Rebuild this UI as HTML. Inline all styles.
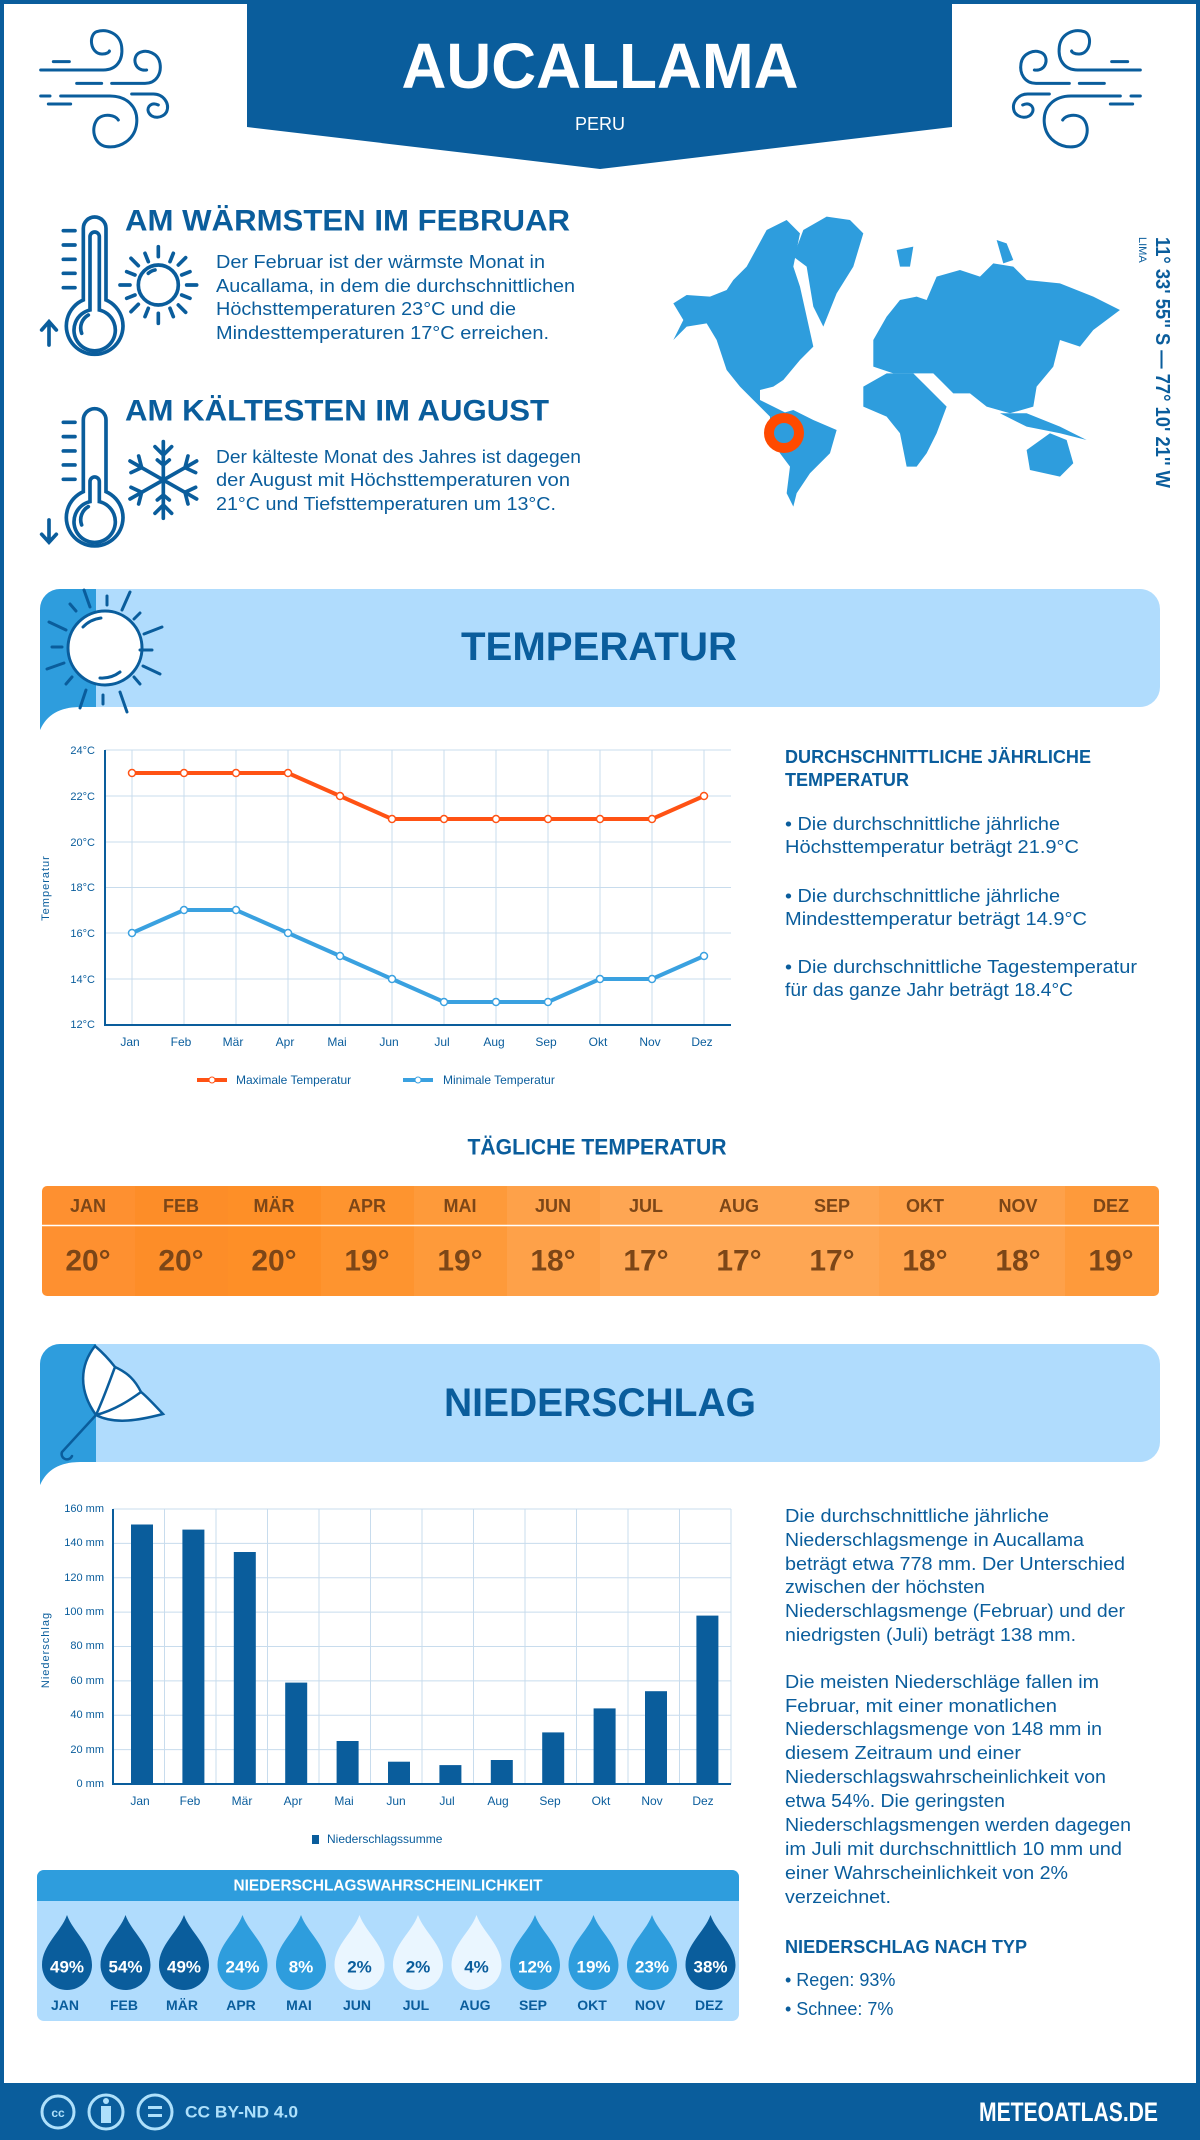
<!DOCTYPE html>
<html><head><meta charset="utf-8"><style>
html,body{margin:0;padding:0;background:#fff}
svg{display:block}
text{font-family:"Liberation Sans",sans-serif}
</style></head><body>
<svg width="1200" height="2140" viewBox="0 0 1200 2140" xmlns="http://www.w3.org/2000/svg">
<rect x="0" y="0" width="1200" height="2140" fill="#fff"/>
<rect x="2" y="2" width="1196" height="2136" fill="none" stroke="#0a5d9c" stroke-width="4"/>
<!-- header banner -->
<polygon points="247,0 952,0 952,127 600,169 247,127" fill="#0a5d9c"/>
<text x="600" y="66" text-anchor="middle" dominant-baseline="central" font-size="64" font-weight="bold" fill="#fff" textLength="397" lengthAdjust="spacingAndGlyphs">AUCALLAMA</text>
<text x="600" y="124" text-anchor="middle" dominant-baseline="central" font-size="18" fill="#fff">PERU</text>
<!-- wind icons -->
<g id="wind" transform="translate(30,20) scale(0.3333)" fill="none" stroke="#0a5d9c" stroke-width="9" stroke-linecap="round">
<path d="M70,125 H118"/>
<path d="M32,150 H220 C260,150 280,120 275,80 C270,40 230,25 200,35 C175,45 180,100 215,102 C230,103 240,95 238,93"/>
<path d="M140,190 H215"/>
<path d="M245,190 H345 C380,190 395,160 390,130 C385,100 350,85 325,100 C305,115 315,155 350,150"/>
<path d="M32,228 H60 M92,228 H240 C290,228 325,260 320,310 C315,360 270,385 230,380 C190,375 180,320 205,295 C225,280 255,285 265,300"/>
<path d="M55,252 H122"/>
<path d="M305,222 H370 C400,222 420,250 410,275 C400,295 365,300 355,275 C350,260 365,245 385,255"/>
</g>
<g transform="translate(1181,0) scale(-1,1)"><use href="#wind"/></g>
<!-- thermometers -->
<g transform="translate(30,200) scale(0.3333)" fill="none" stroke="#0a5d9c" stroke-width="11" stroke-linecap="round">
<path d="M160,300 V85 A34,34 0 0 1 228,85 V300 A85,85 0 1 1 160,300 Z"/>
<path d="M180,330 V110 A14,14 0 0 1 208,110 V330 A62,62 0 1 1 180,330 Z"/>
<path d="M155,400 A45,45 0 0 1 175,345"/>
<path d="M100,92 H135 M100,135 H135 M100,178 H135 M100,220 H135 M100,263 H135"/>
<path d="M57,435 V365 M35,390 L57,365 L79,390"/>
<circle cx="385" cy="255" r="60"/>
<path d="M355,220 A40,40 0 0 1 375,210"/>
<path d="M385,140 V170 M385,340 V370 M270,255 H300 M470,255 H500 M303,175 L325,197 M445,315 L467,337 M303,335 L325,313 M445,195 L467,173 M345,160 L355,185 M420,325 L430,350 M290,215 L315,225 M455,285 L480,295 M290,295 L315,285 M455,225 L480,215 M345,350 L355,325 M420,185 L430,160"/>
<g transform="translate(0,575)">
<path d="M160,300 V85 A34,34 0 0 1 228,85 V300 A85,85 0 1 1 160,300 Z"/>
<path d="M180,330 V270 A14,14 0 0 1 208,270 V330 A62,62 0 1 1 180,330 Z"/>
<path d="M155,400 A45,45 0 0 1 175,345"/>
<path d="M100,92 H135 M100,135 H135 M100,178 H135 M100,220 H135 M100,263 H135"/>
<path d="M57,385 V450 M35,428 L57,452 L79,428"/>
</g>
<g transform="translate(400,840)">
<path d="M0,-115 V115 M-100,-57 L100,57 M-100,57 L100,-57"/>
<path d="M-25,-100 L0,-75 L25,-100 M-25,100 L0,75 L25,100"/>
<path d="M-97,-22 L-65,-37 L-74,-72 M97,22 L65,37 L74,72 M-97,22 L-65,37 L-74,72 M97,-22 L65,-37 L74,-72"/>
<path d="M-18,-60 L0,-45 L18,-60 M-18,60 L0,45 L18,60"/>
</g>
</g>
<text x="125" y="221" dominant-baseline="central" font-size="30" font-weight="bold" fill="#0a5d9c" textLength="445" lengthAdjust="spacingAndGlyphs">AM WÄRMSTEN IM FEBRUAR</text>
<g font-size="18" fill="#0a5d9c">
<text x="216" y="262" dominant-baseline="central" textLength="329" lengthAdjust="spacingAndGlyphs">Der Februar ist der wärmste Monat in</text>
<text x="216" y="286" dominant-baseline="central" textLength="359" lengthAdjust="spacingAndGlyphs">Aucallama, in dem die durchschnittlichen</text>
<text x="216" y="309" dominant-baseline="central" textLength="300" lengthAdjust="spacingAndGlyphs">Höchsttemperaturen 23°C und die</text>
<text x="216" y="333" dominant-baseline="central" textLength="333" lengthAdjust="spacingAndGlyphs">Mindesttemperaturen 17°C erreichen.</text>
</g>
<text x="125" y="411" dominant-baseline="central" font-size="30" font-weight="bold" fill="#0a5d9c" textLength="424" lengthAdjust="spacingAndGlyphs">AM KÄLTESTEN IM AUGUST</text>
<g font-size="18" fill="#0a5d9c">
<text x="216" y="457" dominant-baseline="central" textLength="365" lengthAdjust="spacingAndGlyphs">Der kälteste Monat des Jahres ist dagegen</text>
<text x="216" y="480" dominant-baseline="central" textLength="354" lengthAdjust="spacingAndGlyphs">der August mit Höchsttemperaturen von</text>
<text x="216" y="504" dominant-baseline="central" textLength="340" lengthAdjust="spacingAndGlyphs">21°C und Tiefsttemperaturen um 13°C.</text>
</g>
<!-- map -->
<g transform="translate(660,200) scale(0.3333)" fill="#2e9ddd">
<polygon points="40,310 80,285 150,290 200,270 220,240 260,200 320,90 380,60 420,100 400,200 420,260 460,440 420,480 370,540 340,560 300,570 300,600 340,620 380,640 330,650 280,600 240,560 200,510 170,420 140,370 80,380 40,420 70,360"/>
<polygon points="430,90 500,50 570,60 610,100 580,200 530,280 490,380 460,320 440,200 400,170"/>
<polygon points="330,650 400,630 460,660 530,690 510,760 450,820 410,880 400,920 380,880 390,800 360,760 330,700"/>
<polygon points="640,420 680,350 720,300 770,290 800,300 830,230 900,210 960,230 1000,190 1060,200 1100,240 1200,250 1300,290 1380,330 1300,390 1260,440 1200,420 1180,500 1130,560 1120,620 1050,640 980,620 930,580 880,580 820,520 760,520 700,520 640,500"/>
<polygon points="610,560 680,520 760,520 800,560 860,620 830,700 800,760 770,800 740,800 720,700 680,650 610,620"/>
<polygon points="1100,750 1170,700 1220,720 1240,790 1200,830 1110,810"/>
<polygon points="1020,640 1100,640 1200,680 1280,720 1200,700 1100,680"/>
<polygon points="1010,120 1040,130 1060,180 1030,190"/>
<polygon points="710,150 760,140 750,200 720,200"/>
</g>
<circle cx="784" cy="433" r="15" fill="none" stroke="#ff4a00" stroke-width="10"/>
<text transform="translate(1162,237) rotate(90)" dominant-baseline="central" font-size="20" font-weight="bold" fill="#0a5d9c" textLength="251" lengthAdjust="spacingAndGlyphs">11° 33' 55'' S — 77° 10' 21'' W</text>
<text transform="translate(1142,237) rotate(90)" dominant-baseline="central" font-size="11" fill="#0a5d9c">LIMA</text>
<!-- Temperatur banner -->
<path d="M60,589 H1140 A20,20 0 0 1 1160,609 V687 A20,20 0 0 1 1140,707 H80 Q50,707 40,730 V609 A20,20 0 0 1 60,589 Z" fill="#b0dcfd"/>
<path d="M60,589 H96 V707 H80 Q50,707 40,730 V609 A20,20 0 0 1 60,589 Z" fill="#2e9ddd"/>
<g fill="none" stroke="#0a5d9c" stroke-width="3" stroke-linecap="round">
<circle cx="105" cy="648" r="37" fill="#fff"/>
<path d="M83,627 A30,30 0 0 1 101,618 M100,678 A30,30 0 0 0 120,672"/>
<path d="M84,590 L90,607 M107,596 V605 M130,592 L122,610 M140,613 L134,619 M162,627 L144,634 M152,650 H140 M160,674 L143,666 M140,684 L134,677 M120,692 L127,712 M103,695 V704 M86,690 L80,708 M72,677 L66,684 M64,663 L47,669 M62,647 H52 M66,630 L49,622 M76,611 L70,604"/>
</g>
<text x="599" y="647" text-anchor="middle" dominant-baseline="central" font-size="40" font-weight="bold" fill="#0a5d9c" textLength="276" lengthAdjust="spacingAndGlyphs">TEMPERATUR</text>
<!-- Temp chart -->
<g stroke="#c8dced" stroke-width="1">
<path d="M105,750 H731 M105,796 H731 M105,842 H731 M105,887.5 H731 M105,933 H731 M105,979 H731"/>
<path d="M132,750 V1025 M184,750 V1025 M236,750 V1025 M288,750 V1025 M340,750 V1025 M392,750 V1025 M444,750 V1025 M496,750 V1025 M548,750 V1025 M600,750 V1025 M652,750 V1025 M704,750 V1025"/>
</g>
<path d="M105,750 V1025 H731" fill="none" stroke="#0a5d9c" stroke-width="2"/>
<g font-size="11" fill="#0a5d9c" text-anchor="end">
<text x="95" y="751" dominant-baseline="central">24°C</text>
<text x="95" y="797" dominant-baseline="central">22°C</text>
<text x="95" y="843" dominant-baseline="central">20°C</text>
<text x="95" y="888" dominant-baseline="central">18°C</text>
<text x="95" y="934" dominant-baseline="central">16°C</text>
<text x="95" y="980" dominant-baseline="central">14°C</text>
<text x="95" y="1025" dominant-baseline="central">12°C</text>
</g>
<g font-size="12" fill="#0a5d9c" text-anchor="middle">
<text x="130" y="1042" dominant-baseline="central">Jan</text><text x="181" y="1042" dominant-baseline="central">Feb</text><text x="233" y="1042" dominant-baseline="central">Mär</text><text x="285" y="1042" dominant-baseline="central">Apr</text><text x="337" y="1042" dominant-baseline="central">Mai</text><text x="389" y="1042" dominant-baseline="central">Jun</text><text x="442" y="1042" dominant-baseline="central">Jul</text><text x="494" y="1042" dominant-baseline="central">Aug</text><text x="546" y="1042" dominant-baseline="central">Sep</text><text x="598" y="1042" dominant-baseline="central">Okt</text><text x="650" y="1042" dominant-baseline="central">Nov</text><text x="702" y="1042" dominant-baseline="central">Dez</text>
</g>
<text transform="translate(46,888) rotate(-90)" text-anchor="middle" dominant-baseline="central" font-size="11" fill="#0a5d9c" letter-spacing="1">Temperatur</text>
<polyline points="132,773 184,773 236,773 288,773 340,796 392,819 444,819 496,819 548,819 600,819 652,819 704,796" fill="none" stroke="#ff5214" stroke-width="4"/>
<polyline points="132,933 184,910 236,910 288,933 340,956 392,979 444,1002 496,1002 548,1002 600,979 652,979 704,956" fill="none" stroke="#3aa1e0" stroke-width="4"/>
<g fill="#fff" stroke="#ff5214" stroke-width="1.5">
<circle cx="132" cy="773" r="3.5"/><circle cx="184" cy="773" r="3.5"/><circle cx="236" cy="773" r="3.5"/><circle cx="288" cy="773" r="3.5"/><circle cx="340" cy="796" r="3.5"/><circle cx="392" cy="819" r="3.5"/><circle cx="444" cy="819" r="3.5"/><circle cx="496" cy="819" r="3.5"/><circle cx="548" cy="819" r="3.5"/><circle cx="600" cy="819" r="3.5"/><circle cx="652" cy="819" r="3.5"/><circle cx="704" cy="796" r="3.5"/>
</g>
<g fill="#fff" stroke="#3aa1e0" stroke-width="1.5">
<circle cx="132" cy="933" r="3.5"/><circle cx="184" cy="910" r="3.5"/><circle cx="236" cy="910" r="3.5"/><circle cx="288" cy="933" r="3.5"/><circle cx="340" cy="956" r="3.5"/><circle cx="392" cy="979" r="3.5"/><circle cx="444" cy="1002" r="3.5"/><circle cx="496" cy="1002" r="3.5"/><circle cx="548" cy="1002" r="3.5"/><circle cx="600" cy="979" r="3.5"/><circle cx="652" cy="979" r="3.5"/><circle cx="704" cy="956" r="3.5"/>
</g>
<path d="M197,1080 H227" stroke="#ff5214" stroke-width="4"/><circle cx="212" cy="1080" r="3" fill="#fff" stroke="#ff5214"/>
<text x="236" y="1080" dominant-baseline="central" font-size="12" fill="#0a5d9c">Maximale Temperatur</text>
<path d="M403,1080 H433" stroke="#3aa1e0" stroke-width="4"/><circle cx="418" cy="1080" r="3" fill="#fff" stroke="#3aa1e0"/>
<text x="443" y="1080" dominant-baseline="central" font-size="12" fill="#0a5d9c">Minimale Temperatur</text>
<!-- temp right text -->
<text x="785" y="757" dominant-baseline="central" font-size="18" font-weight="bold" fill="#0a5d9c" textLength="306" lengthAdjust="spacingAndGlyphs">DURCHSCHNITTLICHE JÄHRLICHE</text>
<text x="785" y="780" dominant-baseline="central" font-size="18" font-weight="bold" fill="#0a5d9c" textLength="124" lengthAdjust="spacingAndGlyphs">TEMPERATUR</text>
<g font-size="18" fill="#0a5d9c">
<text x="785" y="824" dominant-baseline="central" textLength="275" lengthAdjust="spacingAndGlyphs">• Die durchschnittliche jährliche</text>
<text x="785" y="847" dominant-baseline="central" textLength="294" lengthAdjust="spacingAndGlyphs">Höchsttemperatur beträgt 21.9°C</text>
<text x="785" y="896" dominant-baseline="central" textLength="275" lengthAdjust="spacingAndGlyphs">• Die durchschnittliche jährliche</text>
<text x="785" y="919" dominant-baseline="central" textLength="302" lengthAdjust="spacingAndGlyphs">Mindesttemperatur beträgt 14.9°C</text>
<text x="785" y="967" dominant-baseline="central" textLength="352" lengthAdjust="spacingAndGlyphs">• Die durchschnittliche Tagestemperatur</text>
<text x="785" y="990" dominant-baseline="central" textLength="288" lengthAdjust="spacingAndGlyphs">für das ganze Jahr beträgt 18.4°C</text>
</g>
<text x="597" y="1147" text-anchor="middle" dominant-baseline="central" font-size="22" font-weight="bold" fill="#0a5d9c" textLength="259" lengthAdjust="spacingAndGlyphs">TÄGLICHE TEMPERATUR</text>
<!-- daily table -->
<defs><clipPath id="tc"><rect x="42" y="1186" width="1117" height="110" rx="5"/></clipPath></defs>
<g clip-path="url(#tc)">
<rect x="42" y="1186" width="94" height="110" fill="#fe9030"/>
<rect x="135" y="1186" width="94" height="110" fill="#fd8d28"/>
<rect x="228" y="1186" width="94" height="110" fill="#fe8f27"/>
<rect x="321" y="1186" width="94" height="110" fill="#fe942f"/>
<rect x="414" y="1186" width="94" height="110" fill="#fe9a3a"/>
<rect x="507" y="1186" width="94" height="110" fill="#fea149"/>
<rect x="600" y="1186" width="94" height="110" fill="#fea653"/>
<rect x="693" y="1186" width="94" height="110" fill="#fea653"/>
<rect x="786" y="1186" width="94" height="110" fill="#fea653"/>
<rect x="879" y="1186" width="94" height="110" fill="#fea14a"/>
<rect x="972" y="1186" width="94" height="110" fill="#fea14a"/>
<rect x="1065" y="1186" width="94" height="110" fill="#fe9a3b"/>
</g>
<path d="M42,1225.5 H1159" stroke="#fff" stroke-width="1.5"/>
<g font-weight="bold" fill="#7c4617" text-anchor="middle">
<g font-size="18">
<text x="88" y="1206" dominant-baseline="central">JAN</text><text x="181" y="1206" dominant-baseline="central">FEB</text><text x="274" y="1206" dominant-baseline="central">MÄR</text><text x="367" y="1206" dominant-baseline="central">APR</text><text x="460" y="1206" dominant-baseline="central">MAI</text><text x="553" y="1206" dominant-baseline="central">JUN</text><text x="646" y="1206" dominant-baseline="central">JUL</text><text x="739" y="1206" dominant-baseline="central">AUG</text><text x="832" y="1206" dominant-baseline="central">SEP</text><text x="925" y="1206" dominant-baseline="central">OKT</text><text x="1018" y="1206" dominant-baseline="central">NOV</text><text x="1111" y="1206" dominant-baseline="central">DEZ</text>
</g>
<g font-size="30">
<text x="88" y="1261" dominant-baseline="central">20°</text><text x="181" y="1261" dominant-baseline="central">20°</text><text x="274" y="1261" dominant-baseline="central">20°</text><text x="367" y="1261" dominant-baseline="central">19°</text><text x="460" y="1261" dominant-baseline="central">19°</text><text x="553" y="1261" dominant-baseline="central">18°</text><text x="646" y="1261" dominant-baseline="central">17°</text><text x="739" y="1261" dominant-baseline="central">17°</text><text x="832" y="1261" dominant-baseline="central">17°</text><text x="925" y="1261" dominant-baseline="central">18°</text><text x="1018" y="1261" dominant-baseline="central">18°</text><text x="1111" y="1261" dominant-baseline="central">19°</text>
</g>
</g>
<!-- Niederschlag banner -->
<path d="M60,1344 H1140 A20,20 0 0 1 1160,1364 V1442 A20,20 0 0 1 1140,1462 H80 Q50,1462 40,1485 V1364 A20,20 0 0 1 60,1344 Z" fill="#b0dcfd"/>
<path d="M60,1344 H96 V1462 H80 Q50,1462 40,1485 V1364 A20,20 0 0 1 60,1344 Z" fill="#2e9ddd"/>
<g fill="none" stroke="#0a5d9c" stroke-width="2.5" stroke-linecap="round">
<path d="M95,1346 C80,1365 78,1390 96,1415 C115,1425 140,1420 163,1414 C150,1400 145,1395 141,1392 C135,1380 128,1373 115,1367 C108,1358 102,1352 95,1346 Z" fill="#fff"/>
<path d="M96,1415 C105,1395 110,1380 115,1367 M96,1415 C115,1410 130,1400 141,1392"/>
<path d="M96,1415 L62,1452 A5,5 0 0 0 72,1456"/>
</g>
<text x="600" y="1403" text-anchor="middle" dominant-baseline="central" font-size="40" font-weight="bold" fill="#0a5d9c" textLength="312" lengthAdjust="spacingAndGlyphs">NIEDERSCHLAG</text>
<!-- precip chart -->
<g stroke="#c8dced" stroke-width="1">
<path d="M113,1509 H731 M113,1543.4 H731 M113,1577.8 H731 M113,1612.1 H731 M113,1646.5 H731 M113,1680.9 H731 M113,1715.3 H731 M113,1749.6 H731"/>
<path d="M164.5,1509 V1784 M216,1509 V1784 M267.5,1509 V1784 M319,1509 V1784 M370.5,1509 V1784 M422,1509 V1784 M473.5,1509 V1784 M525,1509 V1784 M576.5,1509 V1784 M628,1509 V1784 M679.5,1509 V1784 M731,1509 V1784"/>
</g>
<g fill="#0a5d9c">
<rect x="131" y="1524.5" width="22" height="259.5"/>
<rect x="182.4" y="1529.6" width="22" height="254.4"/>
<rect x="233.8" y="1552" width="22" height="232"/>
<rect x="285.2" y="1682.6" width="22" height="101.4"/>
<rect x="336.6" y="1741" width="22" height="43"/>
<rect x="388" y="1761.7" width="22" height="22.3"/>
<rect x="439.4" y="1765.1" width="22" height="18.9"/>
<rect x="490.8" y="1760" width="22" height="24"/>
<rect x="542.2" y="1732.4" width="22" height="51.6"/>
<rect x="593.6" y="1708.4" width="22" height="75.6"/>
<rect x="645" y="1691.2" width="22" height="92.8"/>
<rect x="696.4" y="1615.6" width="22" height="168.4"/>
</g>
<path d="M113,1509 V1784 H731" fill="none" stroke="#0a5d9c" stroke-width="2"/>
<g font-size="11" fill="#0a5d9c" text-anchor="end">
<text x="104" y="1509" dominant-baseline="central">160 mm</text>
<text x="104" y="1543" dominant-baseline="central">140 mm</text>
<text x="104" y="1578" dominant-baseline="central">120 mm</text>
<text x="104" y="1612" dominant-baseline="central">100 mm</text>
<text x="104" y="1646" dominant-baseline="central">80 mm</text>
<text x="104" y="1681" dominant-baseline="central">60 mm</text>
<text x="104" y="1715" dominant-baseline="central">40 mm</text>
<text x="104" y="1750" dominant-baseline="central">20 mm</text>
<text x="104" y="1784" dominant-baseline="central">0 mm</text>
</g>
<g font-size="12" fill="#0a5d9c" text-anchor="middle">
<text x="140" y="1801" dominant-baseline="central">Jan</text><text x="190" y="1801" dominant-baseline="central">Feb</text><text x="242" y="1801" dominant-baseline="central">Mär</text><text x="293" y="1801" dominant-baseline="central">Apr</text><text x="344" y="1801" dominant-baseline="central">Mai</text><text x="396" y="1801" dominant-baseline="central">Jun</text><text x="447" y="1801" dominant-baseline="central">Jul</text><text x="498" y="1801" dominant-baseline="central">Aug</text><text x="550" y="1801" dominant-baseline="central">Sep</text><text x="601" y="1801" dominant-baseline="central">Okt</text><text x="652" y="1801" dominant-baseline="central">Nov</text><text x="703" y="1801" dominant-baseline="central">Dez</text>
</g>
<text transform="translate(46,1650) rotate(-90)" text-anchor="middle" dominant-baseline="central" font-size="11" fill="#0a5d9c" letter-spacing="1">Niederschlag</text>
<rect x="312" y="1835" width="7" height="9" fill="#0a5d9c"/>
<text x="327" y="1839" dominant-baseline="central" font-size="12" fill="#0a5d9c">Niederschlagssumme</text>
<!-- probability box -->
<rect x="37" y="1870" width="702" height="151" rx="7" fill="#b0dcfd"/>
<path d="M44,1870 H732 A7,7 0 0 1 739,1877 V1901 H37 V1877 A7,7 0 0 1 44,1870 Z" fill="#2e9ddd"/>
<text x="388" y="1886" text-anchor="middle" dominant-baseline="central" font-size="16" font-weight="bold" fill="#fff" textLength="309" lengthAdjust="spacingAndGlyphs">NIEDERSCHLAGSWAHRSCHEINLICHKEIT</text>
<g>
<path transform="translate(67,0)" d="M0,1915 C6,1932 25,1945 25,1965 A25,25 0 0 1 -25,1965 C-25,1945 -6,1932 0,1915 Z" fill="#0a5d9c"/>
<path transform="translate(125.5,0)" d="M0,1915 C6,1932 25,1945 25,1965 A25,25 0 0 1 -25,1965 C-25,1945 -6,1932 0,1915 Z" fill="#0a5d9c"/>
<path transform="translate(184,0)" d="M0,1915 C6,1932 25,1945 25,1965 A25,25 0 0 1 -25,1965 C-25,1945 -6,1932 0,1915 Z" fill="#0a5d9c"/>
<path transform="translate(242.5,0)" d="M0,1915 C6,1932 25,1945 25,1965 A25,25 0 0 1 -25,1965 C-25,1945 -6,1932 0,1915 Z" fill="#2e9ddd"/>
<path transform="translate(301,0)" d="M0,1915 C6,1932 25,1945 25,1965 A25,25 0 0 1 -25,1965 C-25,1945 -6,1932 0,1915 Z" fill="#2e9ddd"/>
<path transform="translate(359.5,0)" d="M0,1915 C6,1932 25,1945 25,1965 A25,25 0 0 1 -25,1965 C-25,1945 -6,1932 0,1915 Z" fill="#eaf6ff"/>
<path transform="translate(418,0)" d="M0,1915 C6,1932 25,1945 25,1965 A25,25 0 0 1 -25,1965 C-25,1945 -6,1932 0,1915 Z" fill="#eaf6ff"/>
<path transform="translate(476.5,0)" d="M0,1915 C6,1932 25,1945 25,1965 A25,25 0 0 1 -25,1965 C-25,1945 -6,1932 0,1915 Z" fill="#eaf6ff"/>
<path transform="translate(535,0)" d="M0,1915 C6,1932 25,1945 25,1965 A25,25 0 0 1 -25,1965 C-25,1945 -6,1932 0,1915 Z" fill="#2e9ddd"/>
<path transform="translate(593.5,0)" d="M0,1915 C6,1932 25,1945 25,1965 A25,25 0 0 1 -25,1965 C-25,1945 -6,1932 0,1915 Z" fill="#2e9ddd"/>
<path transform="translate(652,0)" d="M0,1915 C6,1932 25,1945 25,1965 A25,25 0 0 1 -25,1965 C-25,1945 -6,1932 0,1915 Z" fill="#2e9ddd"/>
<path transform="translate(710.5,0)" d="M0,1915 C6,1932 25,1945 25,1965 A25,25 0 0 1 -25,1965 C-25,1945 -6,1932 0,1915 Z" fill="#0a5d9c"/>
</g>
<g font-size="17" font-weight="bold" text-anchor="middle" fill="#fff">
<text x="67" y="1967" dominant-baseline="central">49%</text><text x="125.5" y="1967" dominant-baseline="central">54%</text><text x="184" y="1967" dominant-baseline="central">49%</text><text x="242.5" y="1967" dominant-baseline="central">24%</text><text x="301" y="1967" dominant-baseline="central">8%</text>
<text x="359.5" y="1967" dominant-baseline="central" fill="#0a5d9c">2%</text><text x="418" y="1967" dominant-baseline="central" fill="#0a5d9c">2%</text><text x="476.5" y="1967" dominant-baseline="central" fill="#0a5d9c">4%</text>
<text x="535" y="1967" dominant-baseline="central">12%</text><text x="593.5" y="1967" dominant-baseline="central">19%</text><text x="652" y="1967" dominant-baseline="central">23%</text><text x="710.5" y="1967" dominant-baseline="central">38%</text>
</g>
<g font-size="14" font-weight="bold" text-anchor="middle" fill="#0a5d9c">
<text x="65" y="2005" dominant-baseline="central">JAN</text><text x="124" y="2005" dominant-baseline="central">FEB</text><text x="182" y="2005" dominant-baseline="central">MÄR</text><text x="241" y="2005" dominant-baseline="central">APR</text><text x="299" y="2005" dominant-baseline="central">MAI</text><text x="357" y="2005" dominant-baseline="central">JUN</text><text x="416" y="2005" dominant-baseline="central">JUL</text><text x="475" y="2005" dominant-baseline="central">AUG</text><text x="533" y="2005" dominant-baseline="central">SEP</text><text x="592" y="2005" dominant-baseline="central">OKT</text><text x="650" y="2005" dominant-baseline="central">NOV</text><text x="709" y="2005" dominant-baseline="central">DEZ</text>
</g>
<!-- precip right text -->
<g font-size="18" fill="#0a5d9c">
<text x="785" y="1516" dominant-baseline="central" textLength="264" lengthAdjust="spacingAndGlyphs">Die durchschnittliche jährliche</text>
<text x="785" y="1540" dominant-baseline="central" textLength="299" lengthAdjust="spacingAndGlyphs">Niederschlagsmenge in Aucallama</text>
<text x="785" y="1564" dominant-baseline="central" textLength="340" lengthAdjust="spacingAndGlyphs">beträgt etwa 778 mm. Der Unterschied</text>
<text x="785" y="1587" dominant-baseline="central" textLength="200" lengthAdjust="spacingAndGlyphs">zwischen der höchsten</text>
<text x="785" y="1611" dominant-baseline="central" textLength="340" lengthAdjust="spacingAndGlyphs">Niederschlagsmenge (Februar) und der</text>
<text x="785" y="1635" dominant-baseline="central" textLength="291" lengthAdjust="spacingAndGlyphs">niedrigsten (Juli) beträgt 138 mm.</text>
<text x="785" y="1682" dominant-baseline="central" textLength="314" lengthAdjust="spacingAndGlyphs">Die meisten Niederschläge fallen im</text>
<text x="785" y="1706" dominant-baseline="central" textLength="272" lengthAdjust="spacingAndGlyphs">Februar, mit einer monatlichen</text>
<text x="785" y="1729" dominant-baseline="central" textLength="317" lengthAdjust="spacingAndGlyphs">Niederschlagsmenge von 148 mm in</text>
<text x="785" y="1753" dominant-baseline="central" textLength="236" lengthAdjust="spacingAndGlyphs">diesem Zeitraum und einer</text>
<text x="785" y="1777" dominant-baseline="central" textLength="321" lengthAdjust="spacingAndGlyphs">Niederschlagswahrscheinlichkeit von</text>
<text x="785" y="1801" dominant-baseline="central" textLength="220" lengthAdjust="spacingAndGlyphs">etwa 54%. Die geringsten</text>
<text x="785" y="1825" dominant-baseline="central" textLength="346" lengthAdjust="spacingAndGlyphs">Niederschlagsmengen werden dagegen</text>
<text x="785" y="1849" dominant-baseline="central" textLength="337" lengthAdjust="spacingAndGlyphs">im Juli mit durchschnittlich 10 mm und</text>
<text x="785" y="1873" dominant-baseline="central" textLength="283" lengthAdjust="spacingAndGlyphs">einer Wahrscheinlichkeit von 2%</text>
<text x="785" y="1897" dominant-baseline="central" textLength="106" lengthAdjust="spacingAndGlyphs">verzeichnet.</text>
</g>
<text x="785" y="1947" dominant-baseline="central" font-size="18" font-weight="bold" fill="#0a5d9c" textLength="242" lengthAdjust="spacingAndGlyphs">NIEDERSCHLAG NACH TYP</text>
<text x="785" y="1980" dominant-baseline="central" font-size="18" fill="#0a5d9c">• Regen: 93%</text>
<text x="785" y="2009" dominant-baseline="central" font-size="18" fill="#0a5d9c">• Schnee: 7%</text>
<!-- footer -->
<rect x="0" y="2083" width="1200" height="57" fill="#0a5d9c"/>
<g fill="none" stroke="#aee0fb" stroke-width="3">
<circle cx="58" cy="2112" r="16"/><circle cx="106" cy="2112" r="17"/><circle cx="155" cy="2112" r="17"/>
</g>
<text x="58" y="2113" text-anchor="middle" dominant-baseline="central" font-size="12" font-weight="bold" fill="#aee0fb">cc</text>
<circle cx="106" cy="2101" r="3" fill="#aee0fb"/>
<rect x="101" y="2106" width="10" height="17" fill="#aee0fb"/>
<rect x="148" y="2106" width="14" height="3" fill="#aee0fb"/><rect x="148" y="2114" width="14" height="3" fill="#aee0fb"/>
<text x="185" y="2112" dominant-baseline="central" font-size="17" font-weight="bold" fill="#aee0fb" textLength="113" lengthAdjust="spacingAndGlyphs">CC BY-ND 4.0</text>
<text x="1158" y="2112" text-anchor="end" dominant-baseline="central" font-size="27" font-weight="bold" fill="#fff" textLength="179" lengthAdjust="spacingAndGlyphs">METEOATLAS.DE</text>
</svg>
</body></html>
